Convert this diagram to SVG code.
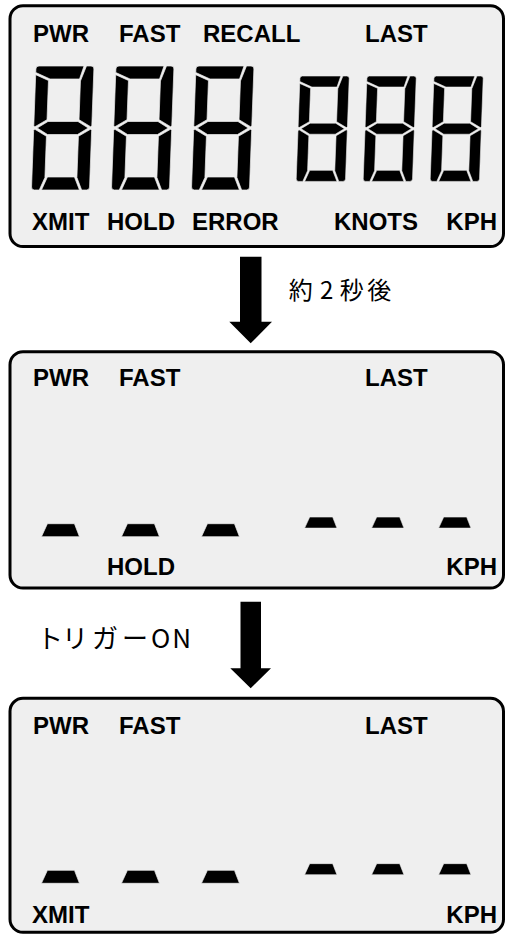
<svg xmlns="http://www.w3.org/2000/svg" xmlns:xlink="http://www.w3.org/1999/xlink" width="507" height="934" viewBox="0 0 507 934">
<style>
.panel{fill:#efefef;stroke:#000;stroke-width:3}
.lbl{font-family:"Liberation Sans",Arial,Helvetica,sans-serif;font-weight:bold;font-size:24px;fill:#000}
.jp{font-family:"Noto Sans CJK JP","Noto Sans",sans-serif;fill:#000}
.seg{fill:#000;stroke:#efefef;stroke-width:0.7}
.arrow{fill:#000}
</style>
<defs>
<g id="digit">
<path d="M0,3 Q0,0 3,0 L48,0 L44,13 L14.5,13 L0,6.5 Z"/>
<path d="M50.5,0 L55,0 Q58,0 58,3 L58,59.5 L56.8,60.7 L45,53.7 L45,15 Z"/>
<path d="M58,64.5 L58,121 Q58,124 55,124 L50.2,124 L45,111.5 L45,70.3 L56.8,63.3 Z"/>
<path id="dseg" d="M10,124 L48,124 L42.5,111 L15.5,111 Z"/>
<path d="M0,64.5 L1.2,63.3 L13,70.3 L13,111.5 L7.8,124 L3,124 Q0,124 0,121 Z"/>
<path d="M0,8.7 L13,14.5 L13,53.7 L1.2,60.7 L0,59.5 Z"/>
<path d="M3.5,62 L14,55.5 L44,55.5 L54.5,62 L44,68.5 L14,68.5 Z"/>
</g>
</defs>

<g id="panel1">
<rect class="panel" x="10" y="5.7" width="493.5" height="240.8" rx="13"/>
<text class="lbl" x="33" y="41.5">PWR</text>
<text class="lbl" x="119" y="41.5">FAST</text>
<text class="lbl" x="203" y="41.5">RECALL</text>
<text class="lbl" x="365" y="41.5">LAST</text>
<use xlink:href="#digit" class="seg" transform="translate(36,66) skewX(-2.1)"/>
<use xlink:href="#digit" class="seg" transform="translate(116,66) skewX(-2.1)"/>
<use xlink:href="#digit" class="seg" transform="translate(196,66) skewX(-2.1)"/>
<use xlink:href="#digit" class="seg" transform="translate(300,76) skewX(-2.1) scale(0.85)"/>
<use xlink:href="#digit" class="seg" transform="translate(367,76) skewX(-2.1) scale(0.85)"/>
<use xlink:href="#digit" class="seg" transform="translate(434,76) skewX(-2.1) scale(0.85)"/>
<text class="lbl" x="32" y="230">XMIT</text>
<text class="lbl" x="107" y="230">HOLD</text>
<text class="lbl" x="192" y="230">ERROR</text>
<text class="lbl" x="334" y="230">KNOTS</text>
<text class="lbl" x="497" y="230" text-anchor="end">KPH</text>
</g>

<g id="panel2">
<rect class="panel" x="10" y="351.7" width="493.5" height="236.3" rx="13"/>
<text class="lbl" x="33" y="386">PWR</text>
<text class="lbl" x="119" y="386">FAST</text>
<text class="lbl" x="365" y="386">LAST</text>
<use xlink:href="#dseg" class="seg" transform="translate(36,412.7) skewX(-2.1)"/>
<use xlink:href="#dseg" class="seg" transform="translate(116,412.7) skewX(-2.1)"/>
<use xlink:href="#dseg" class="seg" transform="translate(196,412.7) skewX(-2.1)"/>
<use xlink:href="#dseg" class="seg" transform="translate(300,422.7) skewX(-2.1) scale(0.85)"/>
<use xlink:href="#dseg" class="seg" transform="translate(367,422.7) skewX(-2.1) scale(0.85)"/>
<use xlink:href="#dseg" class="seg" transform="translate(434,422.7) skewX(-2.1) scale(0.85)"/>
<text class="lbl" x="107" y="575">HOLD</text>
<text class="lbl" x="497" y="575" text-anchor="end">KPH</text>
</g>

<g id="panel3">
<rect class="panel" x="10" y="698.3" width="493.5" height="234" rx="13"/>
<text class="lbl" x="33" y="734">PWR</text>
<text class="lbl" x="119" y="734">FAST</text>
<text class="lbl" x="365" y="734">LAST</text>
<use xlink:href="#dseg" class="seg" transform="translate(36,759.3) skewX(-2.1)"/>
<use xlink:href="#dseg" class="seg" transform="translate(116,759.3) skewX(-2.1)"/>
<use xlink:href="#dseg" class="seg" transform="translate(196,759.3) skewX(-2.1)"/>
<use xlink:href="#dseg" class="seg" transform="translate(300,769.3) skewX(-2.1) scale(0.85)"/>
<use xlink:href="#dseg" class="seg" transform="translate(367,769.3) skewX(-2.1) scale(0.85)"/>
<use xlink:href="#dseg" class="seg" transform="translate(434,769.3) skewX(-2.1) scale(0.85)"/>
<text class="lbl" x="32" y="922.5">XMIT</text>
<text class="lbl" x="497" y="922.5" text-anchor="end">KPH</text>
</g>

<g id="connectors">
<polygon class="arrow" points="240,256.7 261.5,256.7 261.5,321.7 272,321.7 250.7,343.3 229.3,321.7 240,321.7"/>
<text class="jp" font-size="24" y="298.5" x="288.8 320 339.7 367.2">約2秒後</text>
<polygon class="arrow" points="240.5,601.7 261,601.7 261,668.3 271,668.3 250.7,688.3 230.3,668.3 240.5,668.3"/>
<text class="jp" font-size="26" y="648"><tspan x="37 62 92 122">トリガー</tspan><tspan x="151" letter-spacing="2">ON</tspan></text>
</g>
</svg>
